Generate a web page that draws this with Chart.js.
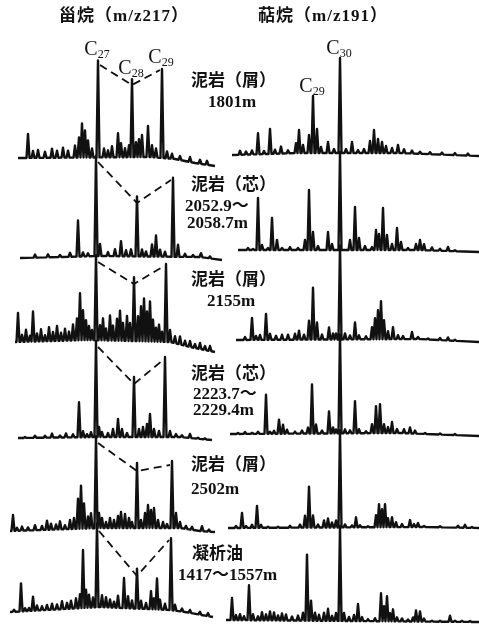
<!DOCTYPE html>
<html>
<head>
<meta charset="utf-8">
<title>甾烷与萜烷质量色谱图</title>
<script src="https://cdn.jsdelivr.net/npm/chart.js@4.4.1/dist/chart.umd.min.js"></script>
<style>
  html, body { margin: 0; padding: 0; background: #fff; }
  #box { width: 479px; height: 632px; }
</style>
</head>
<body>
<div id="box"><canvas id="chart" width="479" height="632"></canvas></div>
<script>
// ---- data ----
const columnTitles = ["甾烷（m/z217）", "萜烷（m/z191）"];
const lithology = ["泥岩（屑）", "泥岩（芯）", "泥岩（屑）", "泥岩（芯）", "泥岩（屑）", "凝析油"];
const depth = [["1801m"], ["2052.9～", "2058.7m"], ["2155m"], ["2223.7～", "2229.4m"], ["2502m"], ["1417～1557m"]];

// steranes m/z217 — baseline drift [scan, level] and peaks [scan, height]
const sBase1801 = [[8, -1], [140, 0], [165, -2], [185, -6], [205, -9]];
const sPeak1801 = [[18, 24], [23, 7], [28, 8], [35, 6], [42, 9], [47, 7], [53, 10], [58, 7], [65, 12], [69, 20], [72, 34], [75, 27], [78, 17], [82, 9], [88, 97], [94, 9], [98, 7], [102, 11], [108, 24], [111, 14], [115, 9], [119, 12], [122, 78], [126, 15], [129, 18], [132, 22], [138, 31], [142, 12], [146, 9], [152, 89], [157, 7], [162, 5], [170, 4], [180, 5], [190, 4], [197, 4]];
const sBase2052 = [[10, -1], [90, 1], [190, 0], [212, -3]];
const sPeak2052 = [[25, 3], [38, 3], [50, 2], [60, 4], [68, 36], [73, 4], [78, 3], [86, 100], [90, 12], [98, 4], [105, 7], [111, 15], [116, 6], [121, 7], [127, 60], [132, 7], [136, 5], [142, 12], [146, 21], [150, 7], [155, 5], [163, 79], [168, 12], [175, 3], [183, 2], [191, 4], [200, 2]];
const sBase2155 = [[5, 0], [80, 2], [160, 0], [180, -5], [205, -10]];
const sPeak2155 = [[8, 29], [12, 7], [16, 12], [20, 6], [23, 30], [27, 8], [31, 12], [35, 6], [39, 14], [43, 9], [47, 15], [51, 8], [55, 12], [59, 9], [63, 16], [67, 22], [70, 47], [73, 30], [76, 20], [79, 14], [82, 10], [86, 85], [90, 15], [93, 22], [96, 12], [100, 25], [103, 15], [107, 22], [110, 30], [113, 18], [117, 25], [120, 18], [124, 64], [128, 25], [131, 35], [134, 43], [137, 30], [140, 40], [143, 22], [146, 14], [149, 17], [152, 10], [156, 78], [160, 12], [165, 7], [170, 8], [175, 5], [180, 6], [185, 4], [190, 6], [195, 4], [200, 5]];
const sBase2223 = [[8, 0], [90, 1], [170, 1], [202, -2]];
const sPeak2223 = [[15, 1], [25, 2], [35, 2], [42, 4], [50, 2], [56, 4], [63, 3], [69, 35], [73, 6], [77, 3], [81, 5], [86, 96], [89, 10], [92, 5], [98, 4], [103, 8], [108, 18], [112, 8], [117, 4], [124, 60], [129, 8], [133, 10], [137, 13], [140, 23], [144, 8], [149, 6], [155, 80], [160, 6], [166, 3], [172, 2], [180, 4], [188, 1], [195, 1]];
const sBase2502 = [[0, -1], [90, 2], [170, 2], [190, -1], [205, -2]];
const sPeak2502 = [[3, 16], [7, 3], [12, 4], [18, 3], [25, 5], [32, 4], [37, 9], [41, 6], [46, 5], [50, 8], [55, 4], [60, 9], [64, 11], [68, 30], [71, 43], [74, 25], [78, 12], [81, 15], [86, 92], [89, 15], [92, 10], [96, 6], [100, 10], [104, 8], [108, 12], [111, 16], [115, 14], [119, 10], [122, 6], [127, 65], [131, 8], [135, 15], [138, 23], [141, 18], [144, 20], [148, 8], [153, 6], [157, 4], [162, 67], [166, 15], [170, 6], [176, 3], [182, 3], [192, 5], [199, 2]];
const sBaseOil = [[0, -2], [90, 3], [160, 0], [175, -2], [203, -7]];
const sPeakOil = [[4, 2], [11, 28], [15, 3], [19, 3], [23, 14], [27, 5], [32, 4], [37, 5], [42, 6], [47, 5], [52, 8], [57, 6], [61, 8], [66, 10], [70, 14], [73, 58], [76, 18], [79, 13], [83, 10], [87, 84], [92, 12], [96, 10], [100, 8], [104, 6], [108, 12], [114, 30], [118, 12], [122, 8], [127, 40], [131, 8], [136, 6], [141, 18], [144, 11], [147, 31], [150, 10], [155, 6], [161, 72], [165, 6], [172, 3], [180, 3], [190, 3], [198, 3]];

// hopanes m/z191
const hBase1801 = [[6, -1], [74, 1], [174, 1], [253, -2]];
const hPeak1801 = [[14, 4], [20, 3], [26, 4], [32, 21], [38, 3], [44, 25], [49, 4], [55, 7], [62, 3], [70, 10], [73, 23], [77, 8], [83, 18], [87, 57], [91, 24], [95, 6], [102, 11], [108, 4], [114, 95], [120, 4], [126, 11], [132, 3], [138, 4], [144, 12], [148, 23], [152, 14], [156, 11], [160, 7], [166, 5], [172, 8], [178, 4], [186, 3], [194, 2], [204, 2], [216, 2], [229, 2], [242, 2]];
const hBase2052 = [[12, 0], [194, 0], [253, -2]];
const hPeak2052 = [[22, 2], [27, 1], [32, 52], [36, 5], [42, 2], [46, 32], [51, 10], [56, 2], [64, 3], [72, 2], [79, 10], [83, 60], [87, 18], [92, 4], [102, 18], [106, 6], [114, 98], [124, 10], [129, 43], [133, 12], [139, 4], [146, 3], [150, 20], [153, 16], [157, 42], [161, 15], [166, 6], [171, 22], [175, 8], [182, 2], [190, 6], [194, 10], [198, 6], [206, 3], [214, 2], [222, 4], [229, 1]];
const hBase2155 = [[10, -1], [194, 0], [253, -3]];
const hPeak2155 = [[19, 3], [26, 22], [30, 4], [34, 5], [40, 26], [44, 6], [50, 4], [56, 5], [62, 5], [69, 6], [73, 9], [78, 5], [83, 19], [87, 52], [91, 17], [96, 5], [103, 12], [107, 6], [110, 6], [114, 94], [119, 6], [124, 4], [129, 17], [133, 4], [140, 3], [146, 12], [149, 21], [152, 29], [155, 38], [158, 19], [162, 8], [167, 12], [172, 4], [177, 3], [186, 7], [192, 2], [202, 1], [214, 2], [222, 3], [229, 1]];
const hBase2223 = [[4, 0], [174, 1], [253, -2]];
const hPeak2223 = [[12, 1], [19, 2], [26, 1], [32, 2], [40, 39], [44, 2], [48, 3], [53, 14], [57, 9], [61, 4], [69, 2], [76, 3], [82, 6], [86, 49], [90, 9], [96, 3], [103, 22], [107, 6], [110, 4], [114, 99], [119, 4], [124, 3], [129, 32], [133, 4], [140, 2], [146, 9], [150, 27], [154, 29], [158, 9], [162, 6], [166, 11], [171, 4], [178, 4], [184, 6], [189, 3], [199, 1], [214, 1], [229, 1]];
const hBase2502 = [[2, -1], [194, 0], [253, -1]];
const hPeak2502 = [[10, 2], [16, 15], [20, 2], [26, 3], [31, 22], [35, 3], [42, 1], [52, 1], [64, 2], [74, 3], [79, 12], [83, 41], [87, 12], [92, 3], [98, 7], [102, 9], [106, 5], [110, 7], [114, 97], [119, 3], [126, 2], [130, 10], [134, 2], [142, 1], [150, 12], [153, 23], [156, 18], [159, 23], [162, 9], [166, 10], [170, 5], [176, 3], [184, 7], [188, 3], [192, 4], [198, 1], [214, 1], [232, 2], [239, 3], [246, 1]];
const hBaseOil = [[0, 0], [253, -2]];
const hPeakOil = [[6, 22], [10, 5], [14, 6], [18, 4], [23, 35], [27, 6], [32, 4], [36, 8], [40, 6], [44, 9], [48, 8], [52, 5], [56, 7], [60, 6], [66, 4], [72, 5], [77, 8], [81, 66], [85, 20], [89, 8], [93, 6], [98, 8], [102, 12], [106, 5], [110, 8], [114, 95], [118, 8], [123, 4], [128, 6], [132, 17], [136, 4], [142, 2], [149, 3], [155, 28], [158, 15], [161, 25], [164, 8], [167, 12], [171, 4], [176, 3], [182, 2], [187, 4], [190, 11], [194, 10], [198, 3], [206, 1], [214, 1], [224, 6], [229, 1], [236, 1], [244, 1]];

// scans of the marker peaks, one per sample
const steraneC27 = [88, 86, 86, 86, 86, 87];
const steraneC28 = [122, 127, 124, 124, 127, 127];
const steraneC29 = [152, 163, 156, 155, 162, 161];
const hopaneC29 = [87, 83, 87, 86, 83, 81];
const hopaneC30 = [114, 114, 114, 114, 114, 114];

const steraneBase = [sBase1801, sBase2052, sBase2155, sBase2223, sBase2502, sBaseOil];
const steranePeaks = [sPeak1801, sPeak2052, sPeak2155, sPeak2223, sPeak2502, sPeakOil];
const hopaneBase = [hBase1801, hBase2052, hBase2155, hBase2223, hBase2502, hBaseOil];
const hopanePeaks = [hPeak1801, hPeak2052, hPeak2155, hPeak2223, hPeak2502, hPeakOil];

// ---- layout ----
const W = 479, H = 632;
const originL = 10, originR = 226;            // pixel of scan 0 in each column
const rowBaseL = [157, 257, 342, 438, 530, 610];
const rowBaseR = [154, 250, 339, 434, 527, 620];
const INK = "#111";
const HALF = 1.5;                              // half width of a peak foot

function baseAt(knots, s) {
  if (s <= knots[0][0]) return knots[0][1];
  for (let i = 1; i < knots.length; i++) {
    const [x0, y0] = knots[i - 1], [x1, y1] = knots[i];
    if (s <= x1) return y0 + (y1 - y0) * (s - x0) / (x1 - x0);
  }
  return knots[knots.length - 1][1];
}

function buildTrace(knots, peaks) {
  const pts = [];
  peaks.forEach(([s, h]) => {
    pts.push({ x: s - HALF, y: baseAt(knots, s - HALF) });
    pts.push({ x: s, y: baseAt(knots, s) + h });
    pts.push({ x: s + HALF, y: baseAt(knots, s + HALF) });
  });
  knots.forEach(([s, v]) => {
    const inside = peaks.some(([p]) => Math.abs(p - s) <= HALF);
    if (!inside) pts.push({ x: s, y: v });
  });
  pts.sort((a, b) => a.x - b.x);
  return pts;
}

function heightOf(peaks, scan) {
  const p = peaks.find(([s]) => s === scan);
  return p ? p[1] : 0;
}

const scales = {
  xs: { type: "linear", axis: "x", display: false, min: -originL, max: W - originL },
  xh: { type: "linear", axis: "x", display: false, min: -originR, max: W - originR },
};
rowBaseL.forEach((b, i) => { scales["ys" + i] = { type: "linear", axis: "y", display: false, min: b - H, max: b }; });
rowBaseR.forEach((b, i) => { scales["yh" + i] = { type: "linear", axis: "y", display: false, min: b - H, max: b }; });

const datasets = [];
steranePeaks.forEach((peaks, i) => {
  datasets.push({
    data: buildTrace(steraneBase[i], peaks),
    xAxisID: "xs", yAxisID: "ys" + i,
    borderColor: INK, borderWidth: 2.4, pointRadius: 0, tension: 0,
    borderJoinStyle: "round", clip: false,
  });
  // dashed V through C27 - C28 - C29
  datasets.push({
    data: [
      { x: steraneC27[i] + 2, y: heightOf(peaks, steraneC27[i]) - 5 },
      { x: steraneC28[i], y: heightOf(peaks, steraneC28[i]) - 6 },
      { x: steraneC29[i] - 2, y: heightOf(peaks, steraneC29[i]) - 2 },
    ],
    xAxisID: "xs", yAxisID: "ys" + i,
    borderColor: INK, borderWidth: 1.8, borderDash: [8, 5], pointRadius: 0, tension: 0, clip: false,
  });
});
hopanePeaks.forEach((peaks, i) => {
  datasets.push({
    data: buildTrace(hopaneBase[i], peaks),
    xAxisID: "xh", yAxisID: "yh" + i,
    borderColor: INK, borderWidth: 2.4, pointRadius: 0, tension: 0,
    borderJoinStyle: "round", clip: false,
  });
});

// text positions
const titlePos = [[124, 17], [323, 17]];
const lithPos = [[191, 80], [191, 184], [191, 279], [191, 373], [191, 464], [192, 553]];
const depthPos = [[[208, 103]], [[185, 207], [187, 224]], [[207, 302]], [[193, 395], [193, 411]], [[191, 490]], [[178, 576]]];

function drawC(ctx, x, yBase, sub) {
  ctx.font = '20px "Liberation Serif"';
  const wC = ctx.measureText("C").width;
  ctx.font = '12px "Liberation Serif"';
  const wS = ctx.measureText(sub).width;
  const left = x - (wC + wS) / 2;
  ctx.font = '20px "Liberation Serif"';
  ctx.fillText("C", left, yBase);
  ctx.font = '12px "Liberation Serif"';
  ctx.fillText(sub, left + wC, yBase + 3);
}

const annotations = {
  id: "annotations",
  afterDatasetsDraw(chart) {
    const ctx = chart.ctx;
    const sc = chart.scales;
    ctx.save();
    ctx.fillStyle = INK;

    // column titles
    ctx.textBaseline = "middle";
    ctx.textAlign = "center";
    ctx.font = 'bold 17px "Liberation Serif", "Noto Sans CJK SC"';
    if ("letterSpacing" in ctx) ctx.letterSpacing = "1px";
    columnTitles.forEach((t, i) => ctx.fillText(t, titlePos[i][0], titlePos[i][1]));
    if ("letterSpacing" in ctx) ctx.letterSpacing = "0px";

    // marker labels on the top traces
    ctx.textAlign = "left";
    ctx.textBaseline = "alphabetic";
    const p0 = steranePeaks[0];
    [[steraneC27[0], "27"], [steraneC28[0], "28"], [steraneC29[0], "29"]].forEach(([s, sub]) => {
      drawC(ctx, sc.xs.getPixelForValue(s) - 1, sc.ys0.getPixelForValue(heightOf(p0, s)) - 5, sub);
    });
    const q0 = hopanePeaks[0];
    [[hopaneC29[0], "29"], [hopaneC30[0], "30"]].forEach(([s, sub]) => {
      drawC(ctx, sc.xh.getPixelForValue(s) - 1, sc.yh0.getPixelForValue(heightOf(q0, s)) - 5, sub);
    });

    // sample labels
    ctx.textBaseline = "middle";
    lithology.forEach((t, i) => {
      ctx.font = 'bold 17px "Noto Sans CJK SC"';
      ctx.fillText(t, lithPos[i][0], lithPos[i][1]);
      ctx.font = 'bold 17px "Liberation Serif", "Noto Sans CJK SC"';
      depth[i].forEach((d, j) => ctx.fillText(d, depthPos[i][j][0], depthPos[i][j][1]));
    });
    ctx.restore();
  }
};

new Chart(document.getElementById("chart"), {
  type: "line",
  data: { datasets },
  options: {
    responsive: false,
    animation: false,
    events: [],
    layout: { padding: 0 },
    scales,
    plugins: { legend: { display: false }, tooltip: { enabled: false } },
  },
  plugins: [annotations],
});
</script>
</body>
</html>
